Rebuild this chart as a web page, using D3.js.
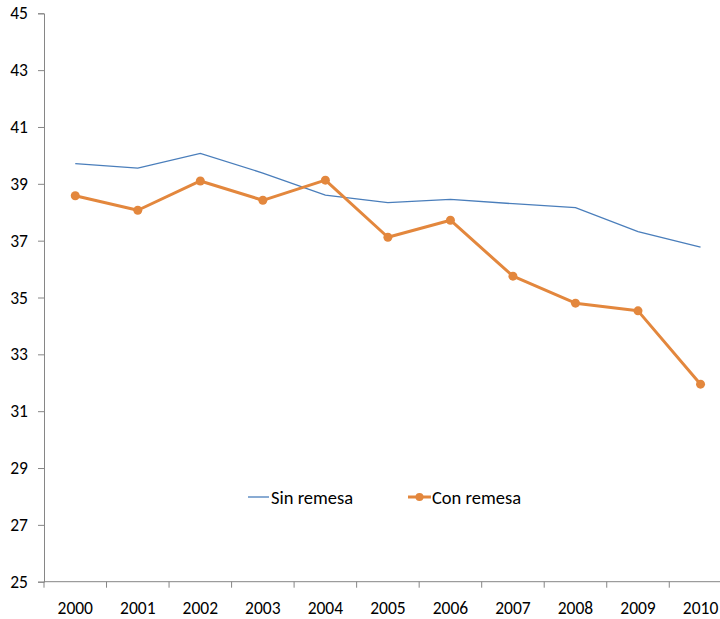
<!DOCTYPE html>
<html>
<head>
<meta charset="utf-8">
<script src="https://cdn.jsdelivr.net/npm/d3@7"></script>
<style>
  body { margin: 0; background: #fff; }
  svg text { font-family: Carlito, "Open Sans", "Noto Sans", sans-serif; fill: #000; }
</style>
</head>
<body>
<svg id="chart" width="720" height="619"></svg>
<script>
var years = ["2000","2001","2002","2003","2004","2005","2006","2007","2008","2009","2010"];
var sinRemesa = [39.71, 39.55, 40.07, 39.38, 38.6, 38.34, 38.45, 38.3, 38.16, 37.32, 36.77];
var conRemesa = [38.58, 38.07, 39.10, 38.42, 39.13, 37.12, 37.72, 35.75, 34.80, 34.53, 31.95];
var yTicks = [25, 27, 29, 31, 33, 35, 37, 39, 41, 43, 45];

var svg = d3.select("#chart");
var blue = "#4A7EBB", orange = "#E3873D", axisColor = "#868686";

var x = d3.scaleBand().domain(years).range([44, 731.8]);
var y = d3.scaleLinear().domain([25, 45]).range([581.7, 13.3]);

// y axis
var yAxis = svg.append("g")
    .attr("transform", "translate(44,0)")
    .call(d3.axisLeft(y).tickValues(yTicks).tickSize(6).tickPadding(10));
yAxis.select(".domain").attr("stroke", axisColor);
yAxis.selectAll(".tick line").attr("stroke", axisColor);
yAxis.selectAll("text").attr("font-size", 17.5).attr("fill", "#000");

// x axis, ticks at band boundaries
var xg = svg.append("g").attr("transform", "translate(0,581.7)");
xg.append("line")
    .attr("x1", 44).attr("x2", 720)
    .attr("stroke", axisColor);
xg.selectAll("line.tk")
    .data(years)
    .enter().append("line")
    .attr("class", "tk")
    .attr("x1", function(d) { return x(d); })
    .attr("x2", function(d) { return x(d); })
    .attr("y1", 0).attr("y2", 6)
    .attr("stroke", axisColor);
xg.selectAll("text")
    .data(years)
    .enter().append("text")
    .attr("x", function(d) { return x(d) + x.bandwidth() / 2; })
    .attr("y", 32)
    .attr("text-anchor", "middle")
    .attr("font-size", 17.5)
    .text(function(d) { return d; });

var line = d3.line()
    .x(function(d, i) { return x(years[i]) + x.bandwidth() / 2; })
    .y(function(d) { return y(d); });

svg.append("path")
    .datum(sinRemesa)
    .attr("d", line)
    .attr("fill", "none")
    .attr("stroke", blue)
    .attr("stroke-width", 1.3);

svg.append("path")
    .datum(conRemesa)
    .attr("d", line)
    .attr("fill", "none")
    .attr("stroke", orange)
    .attr("stroke-width", 3)
    .attr("stroke-linejoin", "round");

svg.append("g")
    .selectAll("circle")
    .data(conRemesa)
    .enter().append("circle")
    .attr("cx", function(d, i) { return x(years[i]) + x.bandwidth() / 2; })
    .attr("cy", function(d) { return y(d); })
    .attr("r", 4.5)
    .attr("fill", orange);

// legend
var legend = svg.append("g").attr("transform", "translate(0,497)");
legend.append("line")
    .attr("x1", 248).attr("x2", 269)
    .attr("stroke", blue).attr("stroke-width", 1.3);
legend.append("text")
    .attr("x", 271).attr("y", 6.5)
    .attr("font-size", 18.5)
    .text("Sin remesa");
legend.append("line")
    .attr("x1", 408).attr("x2", 431)
    .attr("stroke", orange).attr("stroke-width", 3);
legend.append("circle")
    .attr("cx", 419.5).attr("cy", 0).attr("r", 4)
    .attr("fill", orange);
legend.append("text")
    .attr("x", 432).attr("y", 6.5)
    .attr("font-size", 18.5)
    .text("Con remesa");
</script>
</body>
</html>
